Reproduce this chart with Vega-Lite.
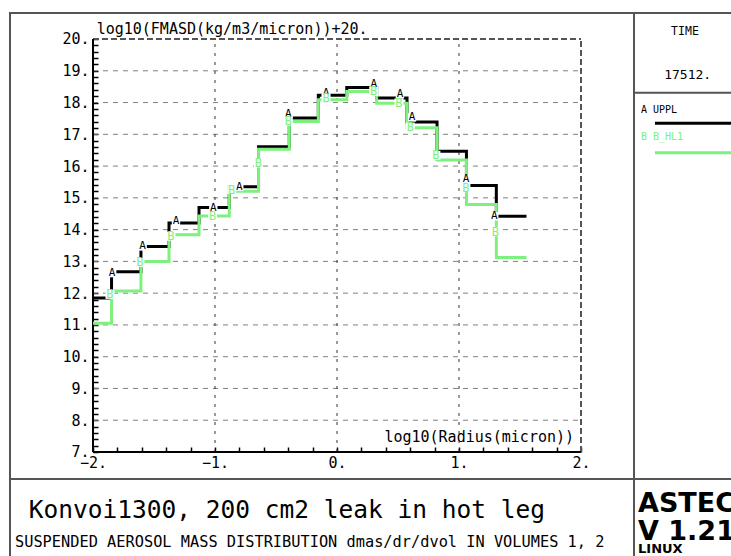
{
  "$schema": "https://vega.github.io/schema/vega-lite/v6.json",
  "background": "white",
  "padding": {"left": 9, "top": 12, "right": 0, "bottom": 0},
  "autosize": {"type": "pad"},
  "bounds": "flush",
  "spacing": 0,
  "columns": 2,
  "datasets": {
    "steps": [
      {"s": "UPPL", "x": -2.0, "y": 11.85}, {"s": "UPPL", "x": -1.848, "y": 12.67}, {"s": "UPPL", "x": -1.607, "y": 13.47},
      {"s": "UPPL", "x": -1.377, "y": 14.21}, {"s": "UPPL", "x": -1.131, "y": 14.70}, {"s": "UPPL", "x": -0.883, "y": 15.35},
      {"s": "UPPL", "x": -0.643, "y": 16.61}, {"s": "UPPL", "x": -0.391, "y": 17.51}, {"s": "UPPL", "x": -0.153, "y": 18.23},
      {"s": "UPPL", "x": 0.080, "y": 18.47}, {"s": "UPPL", "x": 0.325, "y": 18.14}, {"s": "UPPL", "x": 0.574, "y": 17.39},
      {"s": "UPPL", "x": 0.820, "y": 16.47}, {"s": "UPPL", "x": 1.061, "y": 15.39}, {"s": "UPPL", "x": 1.306, "y": 14.42},
      {"s": "UPPL", "x": 1.553, "y": 14.42},
      {"s": "B_HL1", "x": -2.0, "y": 11.05}, {"s": "B_HL1", "x": -1.848, "y": 12.07}, {"s": "B_HL1", "x": -1.607, "y": 13.00},
      {"s": "B_HL1", "x": -1.377, "y": 13.84}, {"s": "B_HL1", "x": -1.131, "y": 14.43}, {"s": "B_HL1", "x": -0.883, "y": 15.21},
      {"s": "B_HL1", "x": -0.643, "y": 16.53}, {"s": "B_HL1", "x": -0.391, "y": 17.40}, {"s": "B_HL1", "x": -0.153, "y": 18.09},
      {"s": "B_HL1", "x": 0.080, "y": 18.35}, {"s": "B_HL1", "x": 0.325, "y": 17.98}, {"s": "B_HL1", "x": 0.574, "y": 17.21},
      {"s": "B_HL1", "x": 0.820, "y": 16.19}, {"s": "B_HL1", "x": 1.061, "y": 14.79}, {"s": "B_HL1", "x": 1.306, "y": 13.12},
      {"s": "B_HL1", "x": 1.553, "y": 13.12}
    ],
    "labels": [
      {"lab": "A", "x": -1.843, "y": 12.63}, {"lab": "A", "x": -1.593, "y": 13.47}, {"lab": "A", "x": -1.32, "y": 14.26},
      {"lab": "A", "x": -1.014, "y": 14.68}, {"lab": "A", "x": -0.801, "y": 15.35}, {"lab": "A", "x": -0.399, "y": 17.65},
      {"lab": "A", "x": -0.09, "y": 18.31}, {"lab": "A", "x": 0.301, "y": 18.58}, {"lab": "A", "x": 0.516, "y": 18.26},
      {"lab": "A", "x": 0.615, "y": 17.53}, {"lab": "A", "x": 1.057, "y": 15.58}, {"lab": "A", "x": 1.289, "y": 14.42},
      {"lab": "B", "x": -1.861, "y": 11.96}, {"lab": "B", "x": -1.615, "y": 12.97}, {"lab": "B", "x": -1.361, "y": 13.79},
      {"lab": "B", "x": -1.019, "y": 14.42}, {"lab": "B", "x": -0.863, "y": 15.26}, {"lab": "B", "x": -0.645, "y": 16.10},
      {"lab": "B", "x": -0.399, "y": 17.42}, {"lab": "B", "x": -0.09, "y": 18.13}, {"lab": "B", "x": 0.301, "y": 18.35},
      {"lab": "B", "x": 0.508, "y": 17.99}, {"lab": "B", "x": 0.601, "y": 17.23}, {"lab": "B", "x": 0.811, "y": 16.34},
      {"lab": "B", "x": 1.057, "y": 15.32}, {"lab": "B", "x": 1.298, "y": 13.93}
    ],
    "hgrid": [{"v": 8}, {"v": 9}, {"v": 10}, {"v": 11}, {"v": 12}, {"v": 13}, {"v": 14}, {"v": 15}, {"v": 16}, {"v": 17}, {"v": 18}, {"v": 19}],
    "vgrid": [{"v": -1}, {"v": 0}, {"v": 1}]
  },
  "concat": [
    {
      "width": 624,
      "height": 466,
      "resolve": {"axis": {"x": "independent", "y": "independent"}},
      "layer": [
        {
          "data": {"name": "hgrid"},
          "mark": {"type": "rule", "color": "#808080", "strokeDash": [5, 5], "strokeWidth": 1},
          "encoding": {
            "y": {"field": "v", "type": "quantitative", "scale": {"domain": [6.1501, 20.8184], "nice": false, "zero": false}, "axis": null},
            "x": {"datum": -2, "type": "quantitative", "scale": {"domain": [-2.6803, 2.4344], "nice": false, "zero": false}, "axis": null},
            "x2": {"datum": 2}
          }
        },
        {
          "data": {"name": "vgrid"},
          "mark": {"type": "rule", "color": "#333333", "strokeDash": [3, 6], "strokeWidth": 1},
          "encoding": {
            "x": {"field": "v", "type": "quantitative", "scale": {"domain": [-2.6803, 2.4344], "nice": false, "zero": false}, "axis": null},
            "y": {"datum": 7, "type": "quantitative", "scale": {"domain": [6.1501, 20.8184], "nice": false, "zero": false}, "axis": null},
            "y2": {"datum": 20}
          }
        },
        {
          "data": {"values": [{}]},
          "mark": {"type": "rule", "color": "#555555", "strokeDash": [6, 3], "strokeWidth": 2},
          "encoding": {
            "x": {"datum": -2, "type": "quantitative", "scale": {"domain": [-2.6803, 2.4344], "nice": false, "zero": false}, "axis": null},
            "x2": {"datum": 2},
            "y": {"datum": 20, "type": "quantitative", "scale": {"domain": [6.1501, 20.8184], "nice": false, "zero": false}, "axis": null}
          }
        },
        {
          "data": {"values": [{}]},
          "mark": {"type": "rule", "color": "#555555", "strokeDash": [6, 3], "strokeWidth": 2},
          "encoding": {
            "x": {"datum": 2, "type": "quantitative", "scale": {"domain": [-2.6803, 2.4344], "nice": false, "zero": false}, "axis": null},
            "y": {"datum": 7, "type": "quantitative", "scale": {"domain": [6.1501, 20.8184], "nice": false, "zero": false}, "axis": null},
            "y2": {"datum": 20}
          }
        },
        {
          "data": {"values": [{}]},
          "mark": {"type": "rule", "color": "#000000", "strokeWidth": 2},
          "encoding": {
            "x": {"datum": -2, "type": "quantitative", "scale": {"domain": [-2.6803, 2.4344], "nice": false, "zero": false}, "axis": null},
            "y": {"datum": 7, "type": "quantitative", "scale": {"domain": [6.1501, 20.8184], "nice": false, "zero": false}, "axis": null},
            "y2": {"datum": 20}
          }
        },
        {
          "data": {"values": [{}]},
          "mark": {"type": "rule", "color": "#000000", "strokeWidth": 2},
          "encoding": {
            "x": {"datum": -2, "type": "quantitative", "scale": {"domain": [-2.6803, 2.4344], "nice": false, "zero": false}, "axis": null},
            "x2": {"datum": 2},
            "y": {"datum": 7, "type": "quantitative", "scale": {"domain": [6.1501, 20.8184], "nice": false, "zero": false}, "axis": null}
          }
        },
        {
          "data": {"name": "steps"},
          "transform": [{"filter": "datum.s === 'UPPL'"}],
          "mark": {"type": "line", "interpolate": "step-after", "color": "#000000", "strokeWidth": 3},
          "encoding": {
            "x": {"field": "x", "type": "quantitative",
              "scale": {"domain": [-2.6803, 2.4344], "nice": false, "zero": false},
              "axis": {"orient": "bottom", "offset": -27, "values": [-2, -1, 0, 1, 2],
                "domain": false, "grid": false, "ticks": false,
                "labelExpr": "format(datum.value, 'd') + '.'",
                "labelFont": "DejaVu Sans Mono", "labelFontSize": 15, "labelColor": "#000000",
                "labelPadding": 3, "labelFlush": false, "labelOverlap": false, "title": null}},
            "y": {"field": "y", "type": "quantitative",
              "scale": {"domain": [6.1501, 20.8184], "nice": false, "zero": false},
              "axis": {"orient": "left", "offset": -83, "values": [7, 8, 9, 10, 11, 12, 13, 14, 15, 16, 17, 18, 19, 20],
                "domain": false, "grid": false, "ticks": false,
                "labelExpr": "datum.value + '.'",
                "labelFont": "DejaVu Sans Mono", "labelFontSize": 15, "labelColor": "#000000",
                "labelPadding": 4, "labelFlush": false, "labelOverlap": false, "title": null}}
          }
        },
        {
          "data": {"name": "steps"},
          "transform": [{"filter": "datum.s === 'B_HL1'"}],
          "mark": {"type": "line", "interpolate": "step-after", "color": "#7ef07e", "strokeWidth": 3},
          "encoding": {
            "x": {"field": "x", "type": "quantitative",
              "scale": {"domain": [-2.6803, 2.4344], "nice": false, "zero": false},
              "axis": {"orient": "top", "offset": -439,
                "values": [-2,-1.8,-1.6,-1.4,-1.2,-1,-0.8,-0.6,-0.4,-0.2,0,0.2,0.4,0.6,0.8,1,1.2,1.4,1.6,1.8,2],
                "domain": false, "grid": false, "ticks": true, "tickSize": 5, "tickColor": "#000000", "tickWidth": 1.5,
                "labels": false, "title": null}},
            "y": {"field": "y", "type": "quantitative",
              "scale": {"domain": [6.1501, 20.8184], "nice": false, "zero": false},
              "axis": {"orient": "right", "offset": -541,
                "values": [7,7.2,7.4,7.6,7.8,8,8.2,8.4,8.6,8.8,9,9.2,9.4,9.6,9.8,10,10.2,10.4,10.6,10.8,11,11.2,11.4,11.6,11.8,12,12.2,12.4,12.6,12.8,13,13.2,13.4,13.6,13.8,14,14.2,14.4,14.6,14.8,15,15.2,15.4,15.6,15.8,16,16.2,16.4,16.6,16.8,17,17.2,17.4,17.6,17.8,18,18.2,18.4,18.6,18.8,19,19.2,19.4,19.6,19.8,20],
                "domain": false, "grid": false, "ticks": true, "tickSize": 5, "tickColor": "#000000", "tickWidth": 1.5,
                "labels": false, "title": null}}
          }
        },
        {
          "data": {"name": "labels"},
          "transform": [{"filter": "datum.lab === 'A'"}],
          "mark": {"type": "point", "shape": "square", "filled": true, "color": "#ffffff", "opacity": 1, "size": 70},
          "encoding": {
            "x": {"field": "x", "type": "quantitative", "scale": {"domain": [-2.6803, 2.4344], "nice": false, "zero": false}, "axis": null},
            "y": {"field": "y", "type": "quantitative", "scale": {"domain": [6.1501, 20.8184], "nice": false, "zero": false}, "axis": null}
          }
        },
        {
          "data": {"name": "labels"},
          "transform": [{"filter": "datum.lab === 'A'"}],
          "mark": {"type": "text", "font": "DejaVu Sans Mono", "fontSize": 11, "color": "#000000", "align": "center", "baseline": "middle"},
          "encoding": {
            "x": {"field": "x", "type": "quantitative", "scale": {"domain": [-2.6803, 2.4344], "nice": false, "zero": false}, "axis": null},
            "y": {"field": "y", "type": "quantitative", "scale": {"domain": [6.1501, 20.8184], "nice": false, "zero": false}, "axis": null},
            "text": {"field": "lab"}
          }
        },
        {
          "data": {"name": "labels"},
          "transform": [{"filter": "datum.lab === 'B'"}],
          "mark": {"type": "point", "shape": "square", "filled": true, "color": "#ffffff", "opacity": 1, "size": 80},
          "encoding": {
            "x": {"field": "x", "type": "quantitative", "scale": {"domain": [-2.6803, 2.4344], "nice": false, "zero": false}, "axis": null},
            "y": {"field": "y", "type": "quantitative", "scale": {"domain": [6.1501, 20.8184], "nice": false, "zero": false}, "axis": null}
          }
        },
        {
          "data": {"name": "labels"},
          "transform": [{"filter": "datum.lab === 'B'"}],
          "mark": {"type": "text", "font": "DejaVu Sans Mono", "fontSize": 12, "color": "#7ef07e", "align": "center", "baseline": "middle"},
          "encoding": {
            "x": {"field": "x", "type": "quantitative", "scale": {"domain": [-2.6803, 2.4344], "nice": false, "zero": false}, "axis": null},
            "y": {"field": "y", "type": "quantitative", "scale": {"domain": [6.1501, 20.8184], "nice": false, "zero": false}, "axis": null},
            "text": {"field": "lab"}
          }
        },
        {
          "data": {"values": [{}]},
          "mark": {"type": "text", "font": "DejaVu Sans Mono", "fontSize": 15, "color": "#000000", "align": "left", "baseline": "alphabetic", "text": "log10(FMASD(kg/m3/micron))+20."},
          "encoding": {
            "x": {"datum": -1.97, "type": "quantitative", "scale": {"domain": [-2.6803, 2.4344], "nice": false, "zero": false}, "axis": null},
            "y": {"datum": 20.17, "type": "quantitative", "scale": {"domain": [6.1501, 20.8184], "nice": false, "zero": false}, "axis": null}
          }
        },
        {
          "data": {"values": [{}]},
          "mark": {"type": "text", "font": "DejaVu Sans Mono", "fontSize": 15, "color": "#000000", "align": "right", "baseline": "alphabetic", "text": "log10(Radius(micron))"},
          "encoding": {
            "x": {"datum": 1.943, "type": "quantitative", "scale": {"domain": [-2.6803, 2.4344], "nice": false, "zero": false}, "axis": null},
            "y": {"datum": 7.31, "type": "quantitative", "scale": {"domain": [6.1501, 20.8184], "nice": false, "zero": false}, "axis": null}
          }
        }
      ]
    },
    {
      "width": 98,
      "height": 466,
      "data": {"values": [{}]},
      "layer": [
        {
          "mark": {"type": "text", "font": "DejaVu Sans Mono", "fontSize": 11.5, "color": "#000000", "align": "center", "baseline": "alphabetic", "text": "TIME"},
          "encoding": {
            "x": {"datum": 52, "type": "quantitative", "scale": {"domain": [0, 100]}, "axis": null},
            "y": {"datum": 4.72, "type": "quantitative", "scale": {"domain": [0, 100], "reverse": true}, "axis": null}
          }
        },
        {
          "mark": {"type": "text", "font": "DejaVu Sans Mono", "fontSize": 13, "color": "#000000", "align": "center", "baseline": "alphabetic", "text": "17512."},
          "encoding": {
            "x": {"datum": 54.8, "type": "quantitative", "scale": {"domain": [0, 100]}, "axis": null},
            "y": {"datum": 14.16, "type": "quantitative", "scale": {"domain": [0, 100], "reverse": true}, "axis": null}
          }
        },
        {
          "mark": {"type": "rule", "color": "#555555", "strokeWidth": 2},
          "encoding": {
            "x": {"datum": 0, "type": "quantitative", "scale": {"domain": [0, 100]}, "axis": null},
            "x2": {"datum": 100},
            "y": {"datum": 17.1, "type": "quantitative", "scale": {"domain": [0, 100], "reverse": true}, "axis": null}
          }
        },
        {
          "mark": {"type": "text", "font": "DejaVu Sans Mono", "fontSize": 10, "color": "#000000", "align": "left", "baseline": "alphabetic", "text": "A UPPL"},
          "encoding": {
            "x": {"datum": 7.1, "type": "quantitative", "scale": {"domain": [0, 100]}, "axis": null},
            "y": {"datum": 21.46, "type": "quantitative", "scale": {"domain": [0, 100], "reverse": true}, "axis": null}
          }
        },
        {
          "mark": {"type": "rule", "color": "#000000", "strokeWidth": 3},
          "encoding": {
            "x": {"datum": 21.4, "type": "quantitative", "scale": {"domain": [0, 100]}, "axis": null},
            "x2": {"datum": 100},
            "y": {"datum": 23.67, "type": "quantitative", "scale": {"domain": [0, 100], "reverse": true}, "axis": null}
          }
        },
        {
          "mark": {"type": "text", "font": "DejaVu Sans Mono", "fontSize": 10, "color": "#7ef07e", "align": "left", "baseline": "alphabetic", "text": "B B_HL1"},
          "encoding": {
            "x": {"datum": 7.1, "type": "quantitative", "scale": {"domain": [0, 100]}, "axis": null},
            "y": {"datum": 27.32, "type": "quantitative", "scale": {"domain": [0, 100], "reverse": true}, "axis": null}
          }
        },
        {
          "mark": {"type": "rule", "color": "#7ef07e", "strokeWidth": 3},
          "encoding": {
            "x": {"datum": 21.4, "type": "quantitative", "scale": {"domain": [0, 100]}, "axis": null},
            "x2": {"datum": 100},
            "y": {"datum": 29.98, "type": "quantitative", "scale": {"domain": [0, 100], "reverse": true}, "axis": null}
          }
        }
      ]
    },
    {
      "width": 624,
      "height": 78,
      "data": {"values": [{}]},
      "layer": [
        {
          "mark": {"type": "text", "font": "DejaVu Sans Mono", "fontSize": 24.5, "color": "#000000", "align": "left", "baseline": "alphabetic", "text": "Konvoi1300, 200 cm2 leak in hot leg"},
          "encoding": {
            "x": {"datum": 3.0, "type": "quantitative", "scale": {"domain": [0, 100]}, "axis": null},
            "y": {"datum": 50, "type": "quantitative", "scale": {"domain": [0, 100], "reverse": true}, "axis": null}
          }
        },
        {
          "mark": {"type": "text", "font": "DejaVu Sans Mono", "fontSize": 15.3, "color": "#000000", "align": "left", "baseline": "alphabetic", "text": "SUSPENDED AEROSOL MASS DISTRIBUTION dmas/dr/dvol IN VOLUMES 1, 2"},
          "encoding": {
            "x": {"datum": 0.8, "type": "quantitative", "scale": {"domain": [0, 100]}, "axis": null},
            "y": {"datum": 87.2, "type": "quantitative", "scale": {"domain": [0, 100], "reverse": true}, "axis": null}
          }
        }
      ]
    },
    {
      "width": 98,
      "height": 78,
      "data": {"values": [{}]},
      "layer": [
        {
          "mark": {"type": "text", "font": "DejaVu Sans", "fontSize": 27, "fontWeight": "bold", "color": "#000000", "align": "left", "baseline": "alphabetic", "text": "ASTEC"},
          "encoding": {
            "x": {"datum": 4.1, "type": "quantitative", "scale": {"domain": [0, 100]}, "axis": null},
            "y": {"datum": 42.3, "type": "quantitative", "scale": {"domain": [0, 100], "reverse": true}, "axis": null}
          }
        },
        {
          "mark": {"type": "text", "font": "DejaVu Sans", "fontSize": 27, "fontWeight": "bold", "color": "#000000", "align": "left", "baseline": "alphabetic", "text": "V 1.21"},
          "encoding": {
            "x": {"datum": 4.1, "type": "quantitative", "scale": {"domain": [0, 100]}, "axis": null},
            "y": {"datum": 78.2, "type": "quantitative", "scale": {"domain": [0, 100], "reverse": true}, "axis": null}
          }
        },
        {
          "mark": {"type": "text", "font": "DejaVu Sans", "fontSize": 13, "fontWeight": "bold", "color": "#000000", "align": "left", "baseline": "alphabetic", "text": "LINUX"},
          "encoding": {
            "x": {"datum": 4.1, "type": "quantitative", "scale": {"domain": [0, 100]}, "axis": null},
            "y": {"datum": 95.5, "type": "quantitative", "scale": {"domain": [0, 100], "reverse": true}, "axis": null}
          }
        }
      ]
    }
  ],
  "config": {
    "view": {"stroke": "#555555", "strokeWidth": 2},
    "font": "DejaVu Sans Mono"
  }
}
